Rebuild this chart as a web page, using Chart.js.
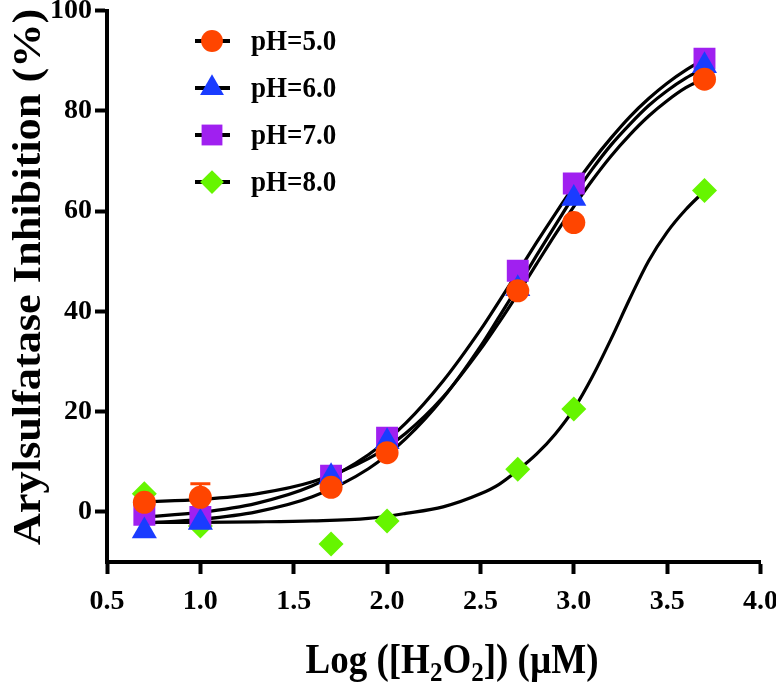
<!DOCTYPE html>
<html>
<head>
<meta charset="utf-8">
<script src="https://cdn.jsdelivr.net/npm/chart.js@4.4.0/dist/chart.umd.min.js"></script>
<style>
  html, body { margin: 0; padding: 0; background: #fff; overflow: hidden; }
  /* canvas is 5px taller and pulled up so the plot top lands at y=10 */
  #chart { display: block; margin-top: -5px; }
</style>
</head>
<body>
<canvas id="chart" width="776" height="689"></canvas>
<script>
// Log([H2O2]) of the measured points
const logConc = [0.7, 1.0, 1.7, 2.0, 2.7, 3.0, 3.7];

// Arylsulfatase inhibition (%) at each pH
const ph5 = [1.9, 2.9, 4.9, 11.8, 44.1, 57.7, 86.3];
const ph5Err = [0, 2.7, 0, 0, 0, 0, 0];
const ph6 = [-3.8, -2.1, 7.0, 14.0, 44.5, 62.5, 89.0];
const ph7 = [-0.6, -1.0, 7.2, 14.8, 48.1, 65.5, 90.4];
const ph8 = [3.6, -2.8, -6.4, -1.8, 8.5, 20.5, 64.1];

// fitted curves
const curveX = [0.7, 1.0, 1.3, 1.6, 1.9, 2.1, 2.3, 2.5, 2.6, 2.7, 2.8, 2.9, 3.0, 3.1, 3.2, 3.3, 3.4, 3.5, 3.6, 3.7];
const fit5 = [2.0, 2.5, 3.6, 6.0, 10.6, 15.7, 22.9, 32.4, 37.8, 43.5, 49.4, 55.3, 60.9, 66.2, 71.0, 75.2, 78.9, 82.0, 84.6, 86.5];
const fit6 = [-2.3, -1.5, 0.0, 3.0, 8.6, 14.6, 22.7, 33.0, 38.9, 44.9, 51.1, 57.1, 63.0, 68.4, 73.2, 77.3, 81.0, 84.0, 86.5, 88.5];
const fit7 = [-1.0, -0.1, 1.7, 5.2, 11.4, 17.7, 26.1, 36.3, 42.0, 47.8, 53.7, 59.4, 64.9, 70.0, 74.6, 78.8, 82.4, 85.5, 88.1, 90.3];
const fit8 = [-2.1, -2.1, -2.0, -1.8, -1.3, -0.3, 1.0, 3.6, 5.5, 8.3, 11.5, 15.5, 20.5, 27.0, 34.5, 42.5, 50.0, 55.8, 60.3, 64.0];

const seriesNames = ['pH=5.0', 'pH=6.0', 'pH=7.0', 'pH=8.0'];
const xTicks = [0.5, 1.0, 1.5, 2.0, 2.5, 3.0, 3.5, 4.0];
const yTicks = [0, 20, 40, 60, 80, 100];

const colors = ['#FF4500', '#1A3CFF', '#A020F0', '#66F500'];
const shapes = ['circle', 'triangle', 'rect', 'rectRot'];
const radii = [11.5, 14.5, 15.5, 12.5];
const FONT = '"Liberation Serif", "Times New Roman", serif';
const SHIFT = 5; // canvas offset, see style

const pts = (xs, ys) => xs.map((x, i) => ({ x: x, y: ys[i] }));

const markerSets = [ph5, ph6, ph7, ph8].map((vals, i) => ({
    label: seriesNames[i],
    data: pts(logConc, vals),
    showLine: false,
    pointStyle: shapes[i],
    pointRadius: radii[i],
    pointHoverRadius: radii[i],
    pointBackgroundColor: colors[i],
    pointBorderColor: colors[i],
    pointBorderWidth: 0,
    order: i
}));

const curveSets = [fit5, fit6, fit7, fit8].map((vals, i) => ({
    label: 'fit ' + seriesNames[i],
    data: pts(curveX, vals),
    showLine: true,
    borderColor: '#000',
    borderWidth: 3.2,
    pointRadius: 0,
    cubicInterpolationMode: 'monotone',
    fill: false,
    order: 10 + i
}));

// error bars drawn under the markers
const errorBars = {
    id: 'errorBars',
    beforeDatasetsDraw(chart) {
        const { ctx, scales: { x, y } } = chart;
        ctx.save();
        ctx.strokeStyle = colors[0];
        ctx.lineWidth = 3;
        logConc.forEach((lx, i) => {
            const e = ph5Err[i];
            if (!e) return;
            const px = x.getPixelForValue(lx);
            const top = y.getPixelForValue(ph5[i] + e);
            const bot = y.getPixelForValue(ph5[i] - e);
            ctx.beginPath();
            ctx.moveTo(px, top); ctx.lineTo(px, bot);
            ctx.moveTo(px - 10, top); ctx.lineTo(px + 10, top);
            ctx.moveTo(px - 10, bot); ctx.lineTo(px + 10, bot);
            ctx.stroke();
        });
        ctx.restore();
    }
};

// stretched text, the figure's lettering is a bit taller than normal
function tallText(ctx, text, x, y, stretch) {
    ctx.save();
    ctx.translate(x, y);
    ctx.scale(1, stretch);
    ctx.fillText(text, 0, 0);
    ctx.restore();
}

// legend + axis titles
const decorations = {
    id: 'decorations',
    afterDraw(chart) {
        const ctx = chart.ctx;
        ctx.save();
        // legend
        const lx = 212, ly = 41 + SHIFT, step = 47;
        seriesNames.forEach((name, i) => {
            const yy = ly + i * step;
            ctx.strokeStyle = '#000';
            ctx.lineWidth = 4;
            ctx.beginPath();
            ctx.moveTo(lx - 17, yy); ctx.lineTo(lx + 18, yy);
            ctx.stroke();
            ctx.fillStyle = colors[i];
            Chart.helpers.drawPoint(ctx, { pointStyle: shapes[i], radius: radii[i] * 0.95, rotation: 0, borderWidth: 0 }, lx, yy);
            ctx.fillStyle = '#000';
            ctx.font = 'bold 27px ' + FONT;
            ctx.textAlign = 'left';
            ctx.textBaseline = 'middle';
            tallText(ctx, name, 251, yy + 1, 1.12);
        });

        // y title
        ctx.save();
        ctx.translate(29, 277 + SHIFT);
        ctx.rotate(-Math.PI / 2);
        ctx.scale(1.08, 1);
        ctx.font = 'bold 41px ' + FONT;
        ctx.textAlign = 'center';
        ctx.textBaseline = 'middle';
        ctx.fillText('Arylsulfatase Inhibition (%)', 0, 0);
        ctx.restore();

        // x title with subscripts
        const parts = [['Log ([H', 0], ['2', 1], ['O', 0], ['2', 1], [']) (µM)', 0]];
        const big = 'bold 37px ' + FONT, small = 'bold 25px ' + FONT;
        let total = 0;
        parts.forEach(([t, sub]) => { ctx.font = sub ? small : big; total += ctx.measureText(t).width; });
        let cx = 452 - total / 2;
        const base = 673 + SHIFT;
        ctx.textAlign = 'left';
        ctx.textBaseline = 'alphabetic';
        parts.forEach(([t, sub]) => {
            ctx.font = sub ? small : big;
            tallText(ctx, t, cx, sub ? base + 8 : base, 1.12);
            cx += ctx.measureText(t).width;
        });
        ctx.restore();
    }
};

new Chart(document.getElementById('chart'), {
    type: 'scatter',
    data: { datasets: [...markerSets, ...curveSets] },
    options: {
        responsive: false,
        animation: false,
        devicePixelRatio: 1,
        layout: { padding: { top: 5, right: 14, left: 0, bottom: 0 } },
        plugins: { legend: { display: false }, tooltip: { enabled: false } },
        scales: {
            x: {
                type: 'linear',
                min: 0.5,
                max: 4.0,
                afterBuildTicks: s => { s.ticks = xTicks.map(v => ({ value: v })); },
                afterFit: s => { s.height = 122; s.paddingLeft = 0; s.paddingRight = 0; },
                border: { display: true, width: 4, color: '#000' },
                grid: { drawOnChartArea: false, drawTicks: true, tickLength: 12, tickWidth: 4, tickColor: '#000' },
                ticks: {
                    color: '#000',
                    padding: 11,
                    maxRotation: 0,
                    autoSkip: false,
                    font: { family: FONT, size: 28, weight: 'bold' },
                    callback: v => Number(v).toFixed(1)
                }
            },
            y: {
                type: 'linear',
                min: -10,
                max: 100,
                afterBuildTicks: s => { s.ticks = yTicks.map(v => ({ value: v })); },
                afterFit: s => { s.width = 107; s.paddingTop = 0; s.paddingBottom = 0; },
                border: { display: true, width: 4, color: '#000' },
                grid: { drawOnChartArea: false, drawTicks: true, tickLength: 12, tickWidth: 4, tickColor: '#000' },
                ticks: {
                    color: '#000',
                    padding: 3,
                    autoSkip: false,
                    font: { family: FONT, size: 28, weight: 'bold', lineHeight: 0.8 }
                }
            }
        }
    },
    plugins: [errorBars, decorations]
});
</script>
</body>
</html>
